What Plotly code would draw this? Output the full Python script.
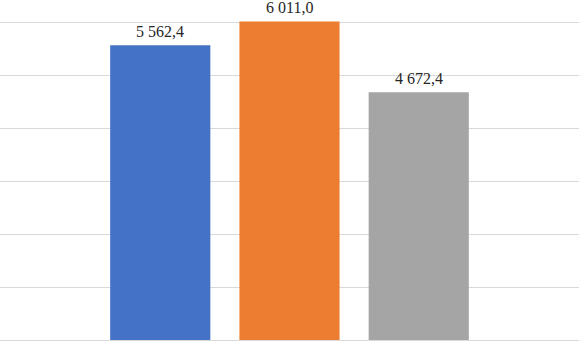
import plotly.graph_objects as go

categories = ["2019", "2020", "2021"]
values = [5562.4, 6011.0, 4672.4]
colors = ["#4472C4", "#ED7D31", "#A5A5A5"]


def fmt(v):
    s = f"{v:,.1f}"
    return s.replace(",", " ").replace(".", ",")


fig = go.Figure()
fig.add_trace(go.Bar(
    x=categories,
    y=values,
    marker=dict(color=colors, line=dict(width=0)),
    width=0.775,
    cliponaxis=False,
    showlegend=False,
))

for i, v in enumerate(values):
    fig.add_annotation(
        x=i, y=v, text=fmt(v), showarrow=False,
        yanchor="bottom", yshift=3,
        font=dict(family="'Times New Roman', 'Liberation Serif', serif",
                  size=16, color="#262626"),
    )

fig.update_layout(
    width=579, height=342,
    margin=dict(l=0, r=0, t=0, b=0),
    paper_bgcolor="white", plot_bgcolor="white",
    xaxis=dict(type="category", range=[-1.24, 3.24], showticklabels=False,
               showgrid=False, zeroline=False, showline=False, ticks=""),
    yaxis=dict(range=[-37.7, 6415], dtick=1000, showticklabels=False,
               showgrid=True, gridcolor="#D9D9D9", gridwidth=1,
               zeroline=True, zerolinecolor="#D9D9D9", zerolinewidth=1,
               showline=False, ticks=""),
)

fig.write_html(
    "out.html",
    config={"displayModeBar": False},
    post_script="document.body.style.margin='0';document.body.style.overflow='hidden';",
)
